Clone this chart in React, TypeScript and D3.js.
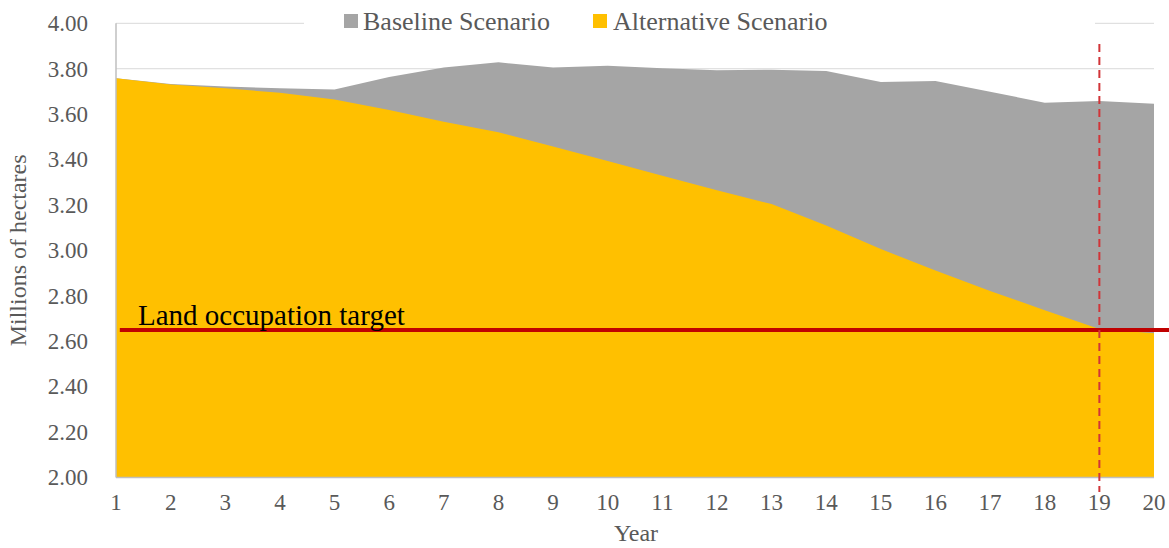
import React from "react";
import * as d3 from "d3";

const years = [1, 2, 3, 4, 5, 6, 7, 8, 9, 10, 11, 12, 13, 14, 15, 16, 17, 18, 19, 20];
const baseline = [3.758, 3.733, 3.722, 3.714, 3.709, 3.764, 3.805, 3.828, 3.805, 3.813, 3.802, 3.793, 3.796, 3.79, 3.741, 3.746, 3.699, 3.65, 3.658, 3.646];
const alternative = [3.758, 3.731, 3.714, 3.694, 3.665, 3.618, 3.567, 3.52, 3.457, 3.394, 3.329, 3.265, 3.204, 3.11, 3.006, 2.911, 2.821, 2.737, 2.654, 2.635];
const yTicks = [2.0, 2.2, 2.4, 2.6, 2.8, 3.0, 3.2, 3.4, 3.6, 3.8, 4.0];
const targetValue = 2.65;
const targetYear = 19;
const seriesNames = ["Baseline Scenario", "Alternative Scenario"];

const W = 1169;
const H = 548;
const FONT = "'Liberation Serif', 'Times New Roman', serif";
const GREY = "#A5A5A5";
const GOLD = "#FFC000";
const TXT = "#595959";

export default function App() {
  const x = d3.scaleLinear().domain([1, 20]).range([116, 1154]);
  const y = d3.scaleLinear().domain([2, 4]).range([477.5, 23.3]);

  const area = (vals: number[]) =>
    d3
      .area<number>()
      .x((_, i) => x(years[i]))
      .y0(y(2))
      .y1((d) => y(d))(vals) as string;

  const legendItems = [
    { name: seriesNames[0], color: GREY, sx: 344, tx: 363 },
    { name: seriesNames[1], color: GOLD, sx: 593, tx: 613 },
  ];

  const ts = { fontFamily: FONT };

  return (
    <svg
      width={W}
      height={H}
      style={{ position: "absolute", left: 0, top: 0, display: "block", background: "#fff", fontFamily: FONT }}
    >
      {/* gridlines */}
      {yTicks.map((t) => (
        <line key={t} x1={x(1)} x2={x(20)} y1={y(t)} y2={y(t)} stroke="#D9D9D9" strokeWidth={1} />
      ))}
      {/* areas */}
      <path d={area(baseline)} fill={GREY} />
      <path d={area(alternative)} fill={GOLD} />
      {/* axes lines */}
      <line x1={x(1)} x2={x(1)} y1={y(4)} y2={y(2)} stroke="#BFBFBF" strokeWidth={1.5} />
      <line x1={x(1)} x2={x(20)} y1={y(2)} y2={y(2)} stroke="#BFBFBF" strokeWidth={1.5} />
      {/* y tick labels */}
      {yTicks.map((t) => (
        <text key={t} x={88} y={y(t)} dy="0.34em" textAnchor="end" fontSize={23} fill={TXT} style={ts}>
          {d3.format(".2f")(t)}
        </text>
      ))}
      {/* x tick labels */}
      {years.map((yr) => (
        <text key={yr} x={x(yr)} y={y(2) + 32.5} textAnchor="middle" fontSize={23} fill={TXT} style={ts}>
          {yr}
        </text>
      ))}
      {/* axis titles */}
      <text x={636} y={541} textAnchor="middle" fontSize={24} fill={TXT} style={ts}>
        Year
      </text>
      <text
        transform={`translate(26, ${(y(2) + y(4)) / 2}) rotate(-90)`}
        textAnchor="middle"
        fontSize={24}
        fill={TXT}
        style={ts}
      >
        Millions of hectares
      </text>
      {/* target line */}
      <line
        x1={x(1.07)}
        x2={x(20.3)}
        y1={y(targetValue)}
        y2={y(targetValue)}
        stroke="#C00000"
        strokeWidth={4}
      />
      <text x={138} y={325} fontSize={29} fill="#000" style={ts}>
        Land occupation target
      </text>
      {/* dashed vertical line */}
      <line
        x1={x(targetYear)}
        x2={x(targetYear)}
        y1={y(3.909)}
        y2={y(1.936)}
        stroke="#D13438"
        strokeWidth={2}
        strokeDasharray="8,5"
      />
      {/* legend */}
      <rect x={304} y={6} width={791} height={32} fill="#fff" />
      {legendItems.map((it) => (
        <g key={it.name}>
          <rect x={it.sx} y={14} width={14} height={14} fill={it.color} />
          <text x={it.tx} y={30} fontSize={26} fill={TXT} style={ts}>
            {it.name}
          </text>
        </g>
      ))}
    </svg>
  );
}
